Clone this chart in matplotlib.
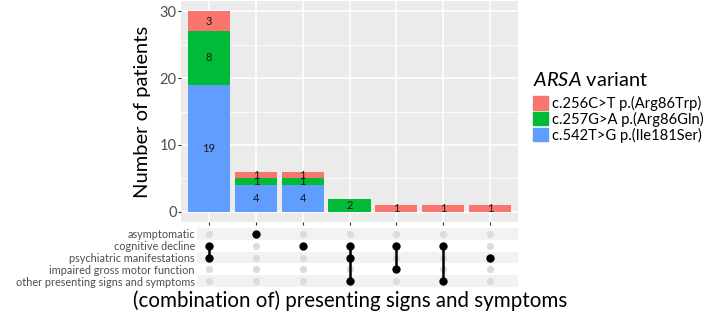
import numpy as np
import matplotlib
matplotlib.use("Agg")
import matplotlib.pyplot as plt
from matplotlib.patches import Patch

plt.rcParams['font.family'] = ['Lato', 'DejaVu Sans']
plt.rcParams['mathtext.fontset'] = 'custom'
plt.rcParams['mathtext.rm'] = 'Lato'
plt.rcParams['mathtext.it'] = 'Lato:italic'

# sets (rows of the matrix) and combinations (columns)
sets = ['asymptomatic', 'cognitive decline', 'psychiatric manifestations',
        'impaired gross motor function', 'other presenting signs and symptoms']
combos = [
    ['cognitive decline', 'psychiatric manifestations'],
    ['asymptomatic'],
    ['cognitive decline'],
    ['cognitive decline', 'psychiatric manifestations', 'other presenting signs and symptoms'],
    ['cognitive decline', 'impaired gross motor function'],
    ['cognitive decline', 'other presenting signs and symptoms'],
    ['psychiatric manifestations'],
]

# patients per variant in each combination (stacked bottom -> top)
variants = ['c.542T>G p.(Ile181Ser)', 'c.257G>A p.(Arg86Gln)', 'c.256C>T p.(Arg86Trp)']
n_ile181ser = [19, 4, 4, 0, 0, 0, 0]
n_arg86gln = [8, 1, 1, 2, 0, 0, 0]
n_arg86trp = [3, 1, 1, 0, 1, 1, 1]
colors = ['#619CFF', '#00BA38', '#F8766D']

W, H = 709, 316
fig = plt.figure(figsize=(W / 100, H / 100), dpi=100)

left, right = 181, 518
unit = (right - left) / 7.2
ax = fig.add_axes([left / W, (H - 222) / H, (right - left) / W, 221 / H])
mleft = 197
axm = fig.add_axes([mleft / W, (H - 287) / H, (right - mleft) / W, 59 / H])

x = np.arange(1, len(combos) + 1)
ax.set_facecolor('#EBEBEB')
ax.set_axisbelow(True)
for y in [5, 15, 25]:
    ax.axhline(y, color='white', lw=0.6, zorder=0)
ax.grid(True, color='white', lw=1.2)

bottom = np.zeros(len(x))
for vals, col in zip([n_ile181ser, n_arg86gln, n_arg86trp], colors):
    vals = np.array(vals)
    ax.bar(x, vals, width=0.9, bottom=bottom, color=col, zorder=2)
    for xi, b, v in zip(x, bottom, vals):
        if v > 0:
            ax.text(xi, b + v / 2, str(v), ha='center', va='center',
                    fontsize=8, color='#1a1a1a', zorder=3)
    bottom += vals

ax.set_xlim(0.4, len(x) + 0.6)
ax.set_ylim(-1.5, 31.5)
ax.set_yticks([0, 10, 20, 30])
ax.set_xticks(x)
ax.set_xticklabels([])
ax.tick_params(axis='both', length=2.2, width=0.8, color='#333333',
               labelcolor='#4D4D4D', labelsize=10.5, pad=1)
for s in ax.spines.values():
    s.set_visible(False)
ax.set_ylabel('Number of patients', fontsize=14.5, labelpad=6)

# matrix panel
axm.set_xlim(0.4 + (mleft - left) / unit, len(x) + 0.6)
axm.set_ylim(len(sets) - 0.5, -0.5)
for i in range(len(sets)):
    if i % 2 == 0:
        axm.axhspan(i - 0.5, i + 0.5, color='#F2F2F2', lw=0, zorder=0)
for xi, combo in zip(x, combos):
    rows = [sets.index(s) for s in combo]
    empty = [i for i in range(len(sets)) if i not in rows]
    axm.plot([xi] * len(empty), empty, 'o', ms=5.2, color='#DCDCDC', mec='none', zorder=1)
    if len(rows) > 1:
        axm.plot([xi, xi], [min(rows), max(rows)], color='black', lw=1.8, zorder=2)
    axm.plot([xi] * len(rows), rows, 'o', ms=6, color='black', mec='none', zorder=3)
axm.set_yticks(range(len(sets)))
axm.set_yticklabels(sets, fontsize=7.8, color='#4D4D4D')
axm.set_xticks([])
axm.tick_params(axis='y', length=0, pad=1.5)
for s in axm.spines.values():
    s.set_visible(False)
axm.set_xlabel('(combination of) presenting signs and symptoms', fontsize=14.8, labelpad=5)
axm.xaxis.set_label_coords((350 - mleft) / (right - mleft), -0.05, transform=axm.transAxes)
axm.xaxis.label.set_va('top')

fig.text(533 / W, 1 - 80 / H, r'$\it{ARSA}$ variant', fontsize=14.4,
         ha='left', va='center')
handles = [Patch(color=c, label=v) for c, v in zip(colors[::-1], variants[::-1])]
fig.legend(handles=handles, loc='upper left',
           bbox_to_anchor=(533 / W, 1 - 96 / H), frameon=False, fontsize=10.6,
           handlelength=1.0, handleheight=1.0,
           handletextpad=0.3, labelspacing=0.05, borderpad=0, borderaxespad=0)

fig.savefig('out.png', dpi=100)
